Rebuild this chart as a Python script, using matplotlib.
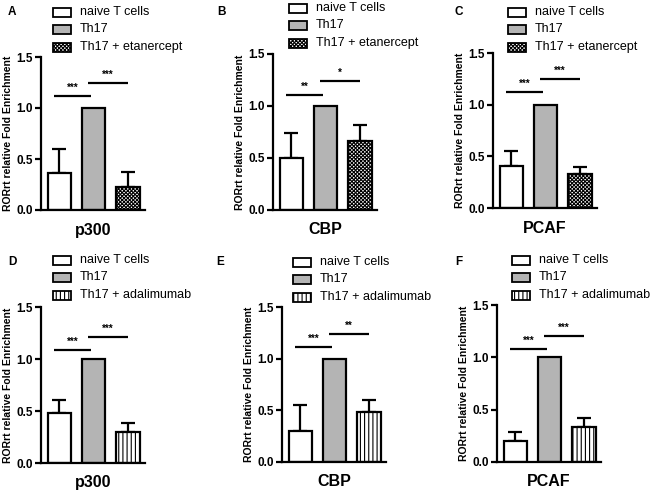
import matplotlib
matplotlib.use('Agg')
import matplotlib.pyplot as plt
from matplotlib.patches import Rectangle

plt.rcParams['font.family'] = ['Liberation Sans', 'DejaVu Sans']
plt.rcParams['hatch.linewidth'] = 0.8

W, H = 650, 491

# ---- data ----
categories = ['p300', 'CBP', 'PCAF', 'p300', 'CBP', 'PCAF']
panel_letters = ['A', 'B', 'C', 'D', 'E', 'F']
groups_top = ['naive T cells', 'Th17', 'Th17 + etanercept']
groups_bottom = ['naive T cells', 'Th17', 'Th17 + adalimumab']
means = [
    [0.36, 1.00, 0.23],
    [0.50, 1.00, 0.66],
    [0.41, 1.00, 0.33],
    [0.48, 1.00, 0.30],
    [0.30, 1.00, 0.48],
    [0.20, 1.00, 0.33],
]
err_upper = [
    [0.24, 0.0, 0.14],
    [0.24, 0.0, 0.16],
    [0.14, 0.0, 0.07],
    [0.13, 0.0, 0.08],
    [0.25, 0.0, 0.12],
    [0.09, 0.0, 0.09],
]
sig_labels = [['***', '***'], ['**', '*'], ['***', '***'],
              ['***', '***'], ['***', '**'], ['***', '***']]
sig_heights = [[1.12, 1.245], [1.105, 1.24], [1.12, 1.25],
               [1.09, 1.21], [1.11, 1.24], [1.08, 1.20]]
yticks = [0.0, 0.5, 1.0, 1.5]
ylabel = 'RORrt relative Fold Enrichment'

# ---- layout (pixels: left, top, right, bottom) ----
axes_px = [(41, 57, 145, 210), (273, 54, 377, 210), (493, 53, 597, 208),
           (41, 307, 145, 463), (282, 307, 386, 462), (497, 305, 601, 462)]
letter_px = [(8, 12), (217, 12), (455, 12), (8, 262), (216, 262), (455, 262)]
legend_px = [(53, 12), (289, 8), (508, 12), (53, 260), (293, 262), (512, 260)]
row_gap = 17.5

styles = [dict(facecolor='white', hatch=None),
          dict(facecolor='#b4b4b4', hatch=None)]
third_top = dict(facecolor='white', hatch='xxxxxxxxx')
third_bottom = dict(facecolor='white', hatch='||||')

fig = plt.figure(figsize=(W / 100, H / 100), dpi=100)

def fx(x):
    return x / W

def fy(y):
    return 1 - y / H

for i in range(6):
    l, t, r, b = axes_px[i]
    ax = fig.add_axes([fx(l), fy(b), (r - l) / W, (b - t) / H])
    st = styles + [third_top if i < 3 else third_bottom]
    xs = [0, 1, 2]
    for j in range(3):
        ax.bar(xs[j], means[i][j], width=0.68, facecolor=st[j]['facecolor'],
               edgecolor='black', linewidth=1.6, hatch=st[j]['hatch'], zorder=2)
        if err_upper[i][j] > 0:
            ax.errorbar(xs[j], means[i][j], yerr=[[0], [err_upper[i][j]]],
                        fmt='none', ecolor='black', elinewidth=1.6,
                        capsize=5, capthick=1.6, zorder=1)
    # significance lines
    spans = [(-0.15, 0.92), (0.85, 2.0)]
    for k in range(2):
        x0, x1 = spans[k]
        h = sig_heights[i][k]
        ax.plot([x0, x1], [h, h], color='black', lw=1.6, solid_capstyle='butt')
        ax.text((x0 + x1) / 2, h + 0.03, sig_labels[i][k], ha='center',
                va='bottom', fontsize=7, fontweight='bold')
    ax.set_xlim(-0.53, 2.5)
    ax.set_ylim(0, 1.5)
    ax.set_yticks(yticks)
    ax.set_yticklabels(['%.1f' % v for v in yticks], fontsize=8.5, fontweight='bold')
    ax.set_xticks([])
    ax.set_xlabel(categories[i], fontsize=11.5, fontweight='bold', labelpad=9)
    ax.set_ylabel(ylabel, fontsize=7.5, fontweight='bold', labelpad=2)
    for s in ['top', 'right']:
        ax.spines[s].set_visible(False)
    for s in ['left', 'bottom']:
        ax.spines[s].set_linewidth(1.6)
    ax.tick_params(axis='y', length=4, width=1.6, pad=2)
    ax.patch.set_alpha(0)

    # panel letter
    lx, ly = letter_px[i]
    fig.text(fx(lx), fy(ly), panel_letters[i], fontsize=8.5, fontweight='bold',
             ha='left', va='center')

    # legend
    gx, gy = legend_px[i]
    names = groups_top if i < 3 else groups_bottom
    for j in range(3):
        yy = gy + j * row_gap
        rect = Rectangle((fx(gx), fy(yy + 4.5)), 18 / W, 9 / H,
                         transform=fig.transFigure, facecolor=st[j]['facecolor'],
                         edgecolor='black', linewidth=1.3, hatch=st[j]['hatch'])
        fig.patches.append(rect)
        fig.text(fx(gx + 27), fy(yy), names[j], fontsize=9, ha='left',
                 va='center')

fig.savefig('out.png', dpi=100, facecolor='white')
